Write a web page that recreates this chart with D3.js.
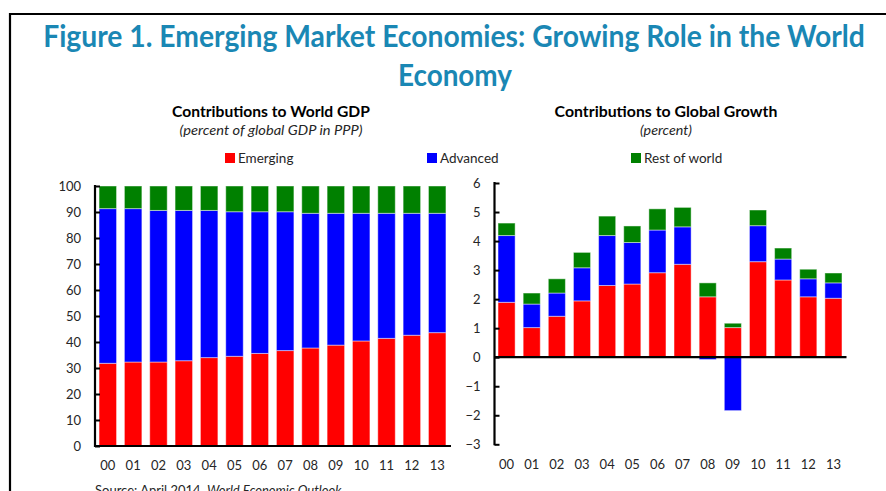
<!DOCTYPE html>
<html>
<head>
<meta charset="utf-8">
<script src="https://cdn.jsdelivr.net/npm/d3@7"></script>
<style>
  html, body { margin: 0; padding: 0; background: #fff; }
  svg { display: block; }
  text { font-family: Lato, "Open Sans", sans-serif; fill: #262626; }
</style>
</head>
<body>
<svg id="fig" width="886" height="491"></svg>
<script>
// Year labels (2000–2013)
const years = ["00","01","02","03","04","05","06","07","08","09","10","11","12","13"];

// Share of world GDP in PPP terms (percent)
const gdpEmerging = [31.8, 32.3, 32.3, 32.8, 34.0, 34.5, 35.6, 36.7, 37.7, 38.8, 40.4, 41.4, 42.6, 43.6];
const gdpAdvanced = [59.5, 59.0, 58.3, 57.8, 56.6, 55.6, 54.5, 53.4, 51.8, 50.7, 49.1, 48.1, 46.9, 45.9];
const gdpRest     = [8.7, 8.7, 9.4, 9.4, 9.4, 9.9, 9.9, 9.9, 10.5, 10.5, 10.5, 10.5, 10.5, 10.5];

// Contributions to global growth (percentage points)
const grEmerging = [1.89, 1.02, 1.41, 1.94, 2.47, 2.52, 2.91, 3.20, 2.08, 1.02, 3.29, 2.66, 2.08, 2.03];
const grAdvanced = [2.30, 0.81, 0.80, 1.14, 1.72, 1.43, 1.47, 1.29, -0.08, -1.84, 1.24, 0.72, 0.62, 0.53];
const grRest     = [0.43, 0.38, 0.49, 0.53, 0.67, 0.57, 0.73, 0.67, 0.48, 0.15, 0.54, 0.38, 0.33, 0.34];

const gdpTicks = [0,10,20,30,40,50,60,70,80,90,100];
const growthTicks = [-3,-2,-1,0,1,2,3,4,5,6];

const seriesKeys = ["Emerging", "Advanced", "Rest of world"];
const colors = { "Emerging": "#ff0000", "Advanced": "#0000ff", "Rest of world": "#008000" };

const svg = d3.select("#fig");

// Frame
svg.append("path")
  .attr("d", "M10,491 L10,14 L886,14")
  .attr("fill", "none").attr("stroke", "#000").attr("stroke-width", 2.2);

// Centered text scaled horizontally to a given width
function fitText(cx, cy, width, str, style) {
  const g = svg.append("g");
  const t = g.append("text").attr("text-anchor", "middle").text(str);
  Object.entries(style).forEach(([k, v]) => t.style(k, v));
  const natural = t.node().getComputedTextLength();
  const s = width / natural;
  g.attr("transform", `translate(${cx},${cy}) scale(${s},1)`);
  return t;
}

// Figure title
const titleStyle = { "font-size": "30px", "font-weight": "bold", "fill": "#1a87b4" };
fitText(454, 47, 822, "Figure 1. Emerging Market Economies: Growing Role in the World", titleStyle);
fitText(455, 86, 114, "Economy", titleStyle);

// Panel titles
function panelTitle(cx, title, sub, w1, w2) {
  fitText(cx, 117, w1, title, { "font-size": "15px", "font-weight": "bold", "fill": "#000" });
  fitText(cx, 135, w2, sub, { "font-size": "13.5px", "font-style": "italic" });
}
panelTitle(271, "Contributions to World GDP", "(percent of global GDP in PPP)", 198, 183);
panelTitle(666, "Contributions to Global Growth", "(percent)", 223, 52);

// Legend
const legendPos = [{k: "Emerging", x: 225}, {k: "Advanced", x: 427}, {k: "Rest of world", x: 631}];
legendPos.forEach(d => {
  svg.append("rect").attr("x", d.x).attr("y", 153).attr("width", 10).attr("height", 10)
    .attr("fill", colors[d.k]);
  svg.append("text").attr("x", d.x + 13).attr("y", 163).style("font-size", "13.5px").text(d.k);
});

// Stacked bar panel
function drawPanel(opts) {
  const rows = years.map((y, i) => ({
    year: y,
    "Emerging": opts.em[i],
    "Advanced": opts.adv[i],
    "Rest of world": opts.rest[i]
  }));
  const stack = d3.stack().keys(seriesKeys).offset(d3.stackOffsetDiverging);
  const layers = stack(rows);

  const x = d3.scaleBand().domain(years).range([opts.x0, opts.x1])
    .paddingInner(opts.padIn).paddingOuter(opts.padOut);
  const y = d3.scaleLinear().domain(opts.domain).range([opts.yBottom, opts.yTop]);

  const g = svg.append("g");
  g.selectAll("g.layer").data(layers).join("g")
    .attr("fill", d => colors[d.key])
    .selectAll("rect").data(d => d).join("rect")
      .attr("x", d => x(d.data.year))
      .attr("width", x.bandwidth())
      .attr("y", d => y(Math.max(d[0], d[1])))
      .attr("height", d => Math.abs(y(d[0]) - y(d[1])))
      .attr("stroke", "#ffffff").attr("stroke-opacity", 0.45).attr("stroke-width", 1);

  // Y axis with inward ticks
  const yAxis = d3.axisLeft(y).tickValues(opts.ticks).tickSizeInner(-5).tickSizeOuter(0)
    .tickPadding(14).tickFormat(d3.format("d"));
  const ya = g.append("g").attr("transform", `translate(${opts.x0},0)`).call(yAxis);
  ya.select(".domain").remove();
  ya.selectAll(".tick line").attr("stroke", "#000").attr("stroke-width", 2);
  ya.selectAll(".tick text").style("font-size", "13px").style("font-family", "Lato, sans-serif")
    .attr("fill", "#262626");
  g.append("line").attr("x1", opts.x0).attr("x2", opts.x0)
    .attr("y1", opts.yTop - 1).attr("y2", opts.yBottom + 1)
    .attr("stroke", "#000").attr("stroke-width", 2.2);

  // Zero line
  g.append("line").attr("x1", opts.x0).attr("x2", opts.x1 + 1)
    .attr("y1", y(0)).attr("y2", y(0))
    .attr("stroke", "#000").attr("stroke-width", 2.2);

  // Category labels along the bottom
  const xAxis = d3.axisBottom(x).tickSize(0).tickPadding(opts.labelPad);
  const xa = g.append("g").attr("transform", `translate(0,${opts.yBottom})`).call(xAxis);
  xa.select(".domain").remove();
  xa.selectAll(".tick text").style("font-size", "13px").style("font-family", "Lato, sans-serif")
    .attr("fill", "#262626");
}

drawPanel({
  em: gdpEmerging, adv: gdpAdvanced, rest: gdpRest,
  x0: 95, x1: 450, yTop: 186, yBottom: 446, domain: [0, 100],
  padIn: 0.31, padOut: 0.16, ticks: gdpTicks, labelPad: 15
});

drawPanel({
  em: grEmerging, adv: grAdvanced, rest: grRest,
  x0: 494.5, x1: 845.5, yTop: 183, yBottom: 444.3, domain: [-3, 6],
  padIn: 0.32, padOut: 0.14, ticks: growthTicks, labelPad: 15
});

// Source note (runs off the bottom edge of the figure)
const src = svg.append("text").attr("x", 95).attr("y", 495).style("font-size", "13px");
src.append("tspan").text("Source: April 2014, ");
src.append("tspan").style("font-style", "italic").text("World Economic Outlook");
</script>
</body>
</html>
